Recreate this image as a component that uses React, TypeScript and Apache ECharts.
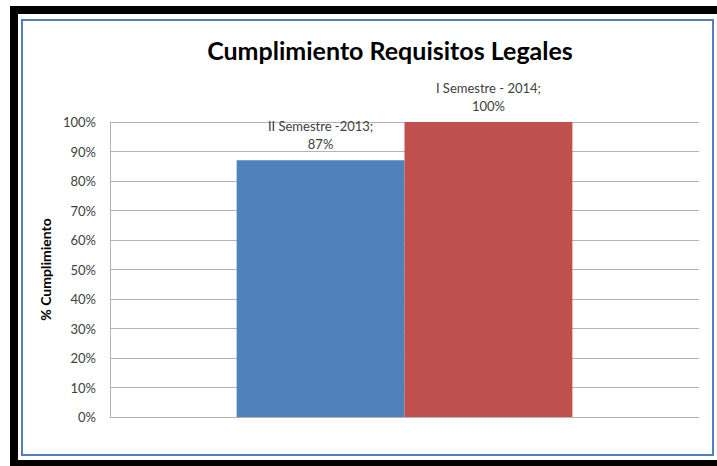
import React, { useEffect, useRef } from "react";
import * as echarts from "echarts";

const categories: string[] = [""];
const seriesNames: string[] = ["II Semestre -2013", "I Semestre - 2014"];
const seriesValues: number[][] = [[87], [100]];
const seriesColors: string[] = ["#4f81bd", "#c0504d"];
const titleText = "Cumplimiento Requisitos Legales";
const yAxisName = "% Cumplimiento";

const FONT = "Lato, 'Liberation Sans', sans-serif";

export default function App() {
  const ref = useRef<HTMLDivElement>(null);
  useEffect(() => {
    document.body.style.margin = "0";
    if (!ref.current) return;
    const chart = echarts.init(ref.current, undefined, { renderer: "svg" });
    chart.setOption({
      animation: false,
      backgroundColor: "#ffffff",
      textStyle: { fontFamily: FONT },
      title: {
        text: titleText,
        left: 385,
        textAlign: "center",
        top: 32,
        textStyle: { fontFamily: FONT, fontSize: 25, fontWeight: "bold", color: "#000000" },
      },
      graphic: [
        { type: "rect", z: -1, shape: { x: 10, y: 6, width: 707, height: 8 }, style: { fill: "#000" } },
        { type: "rect", z: -1, shape: { x: 10, y: 6, width: 8, height: 460 }, style: { fill: "#000" } },
        { type: "rect", z: -1, shape: { x: 10, y: 460, width: 707, height: 6 }, style: { fill: "#000" } },
        {
          type: "rect",
          z: -1,
          shape: { x: 22, y: 20, width: 691, height: 435 },
          style: { fill: "#fff", stroke: "#4f81bd", lineWidth: 2 },
        },
      ],
      grid: { left: 110, right: 18, top: 122, bottom: 49, containLabel: false },
      xAxis: {
        type: "category",
        data: categories,
        axisLine: { show: true, lineStyle: { color: "#b3b3b3", width: 1 } },
        axisTick: { show: false },
        axisLabel: { show: false },
      },
      yAxis: {
        type: "value",
        min: 0,
        max: 100,
        interval: 10,
        name: yAxisName,
        nameLocation: "middle",
        nameGap: 56,
        nameTextStyle: { fontFamily: FONT, fontSize: 14, fontWeight: "bold", color: "#000" },
        axisLine: { show: true, lineStyle: { color: "#b3b3b3", width: 1 } },
        axisTick: { show: false },
        axisLabel: { formatter: "{value}%", margin: 14, fontFamily: FONT, fontSize: 13, color: "#404040" },
        splitLine: { show: true, lineStyle: { color: "#b3b3b3", width: 1 } },
      },
      series: seriesNames.map((name, i) => ({
        type: "bar",
        name,
        data: seriesValues[i],
        barGap: "0%",
        barCategoryGap: "43%",
        itemStyle: { color: seriesColors[i] },
        label: {
          show: true,
          position: "top",
          distance: 7,
          formatter: "{a};\n{c}%",
          fontFamily: FONT,
          fontSize: 13,
          lineHeight: 18,
          color: "#404040",
          align: "center",
        },
      })),
    });
    return () => chart.dispose();
  }, []);
  return <div ref={ref} style={{ width: 717, height: 466 }} />;
}
